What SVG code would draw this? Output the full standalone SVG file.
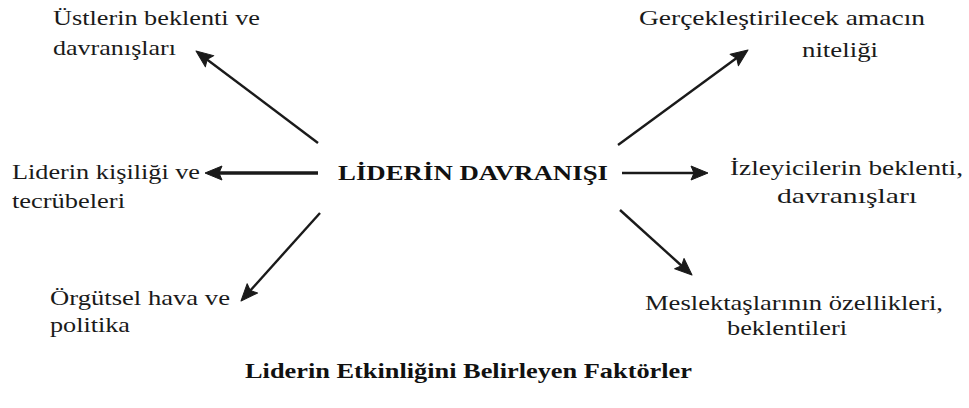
<svg xmlns="http://www.w3.org/2000/svg" width="969" height="408" viewBox="0 0 969 408">
<style>
.t{font-family:"Liberation Serif","Times New Roman",serif;font-size:21px;fill:#1a1a1a}
.b{font-family:"Liberation Serif","Times New Roman",serif;font-size:22px;font-weight:bold;fill:#111}
.c{stroke:#1a1a1a;stroke-width:2.4;fill:none}
.h{fill:#1a1a1a;stroke:#1a1a1a;stroke-width:1;stroke-linejoin:round}
</style>
<rect width="969" height="408" fill="#fff"/>
<g id="connectors">
<line class="c" x1="318" y1="143" x2="205" y2="58"/>
<polygon class="h" points="0,0 -17,-7 -14,0 -17,7" transform="translate(196,51) rotate(217)"/>
<line class="c" x1="618" y1="145" x2="738" y2="57"/>
<polygon class="h" points="0,0 -17,-7 -14,0 -17,7" transform="translate(748,50) rotate(-36)"/>
<line class="c" x1="318" y1="173" x2="216" y2="173" style="stroke-width:3.5"/>
<polygon class="h" points="0,0 -17,-7 -14,0 -17,7" transform="translate(205,173) rotate(180)"/>
<line class="c" x1="622" y1="173" x2="696" y2="173"/>
<polygon class="h" points="0,0 -17,-7 -14,0 -17,7" transform="translate(708,173)"/>
<line class="c" x1="320" y1="213" x2="249" y2="292"/>
<polygon class="h" points="0,0 -17,-7 -14,0 -17,7" transform="translate(241,301) rotate(132)"/>
<line class="c" x1="620" y1="210" x2="683" y2="267"/>
<polygon class="h" points="0,0 -17,-7 -14,0 -17,7" transform="translate(692,275) rotate(42)"/>
</g>
<g id="center">
<text class="b" x="338" y="180" textLength="270" lengthAdjust="spacingAndGlyphs">LİDERİN DAVRANIŞI</text>
</g>
<g id="ustler">
<text class="t" x="53" y="25" textLength="207" lengthAdjust="spacingAndGlyphs">Üstlerin beklenti ve</text>
<text class="t" x="53" y="55" textLength="123" lengthAdjust="spacingAndGlyphs">davranışları</text>
</g>
<g id="amac">
<text class="t" x="639" y="25" textLength="286" lengthAdjust="spacingAndGlyphs">Gerçekleştirilecek  amacın</text>
<text class="t" x="802" y="57" textLength="76" lengthAdjust="spacingAndGlyphs">niteliği</text>
</g>
<g id="kisilik">
<text class="t" x="12" y="179" textLength="188" lengthAdjust="spacingAndGlyphs">Liderin kişiliği ve</text>
<text class="t" x="12" y="208" textLength="113" lengthAdjust="spacingAndGlyphs">tecrübeleri</text>
</g>
<g id="izleyici">
<text class="t" x="730" y="175" textLength="233" lengthAdjust="spacingAndGlyphs">İzleyicilerin beklenti,</text>
<text class="t" x="777" y="203" textLength="140" lengthAdjust="spacingAndGlyphs">davranışları</text>
</g>
<g id="orgut">
<text class="t" x="50" y="305" textLength="180" lengthAdjust="spacingAndGlyphs">Örgütsel hava ve</text>
<text class="t" x="50" y="332" textLength="80" lengthAdjust="spacingAndGlyphs">politika</text>
</g>
<g id="meslek">
<text class="t" x="645" y="310" textLength="298" lengthAdjust="spacingAndGlyphs">Meslektaşlarının özellikleri,</text>
<text class="t" x="727" y="335" textLength="120" lengthAdjust="spacingAndGlyphs">beklentileri</text>
</g>
<g id="title">
<text class="b" x="245" y="378" textLength="447" lengthAdjust="spacingAndGlyphs">Liderin Etkinliğini Belirleyen Faktörler</text>
</g>
</svg>
